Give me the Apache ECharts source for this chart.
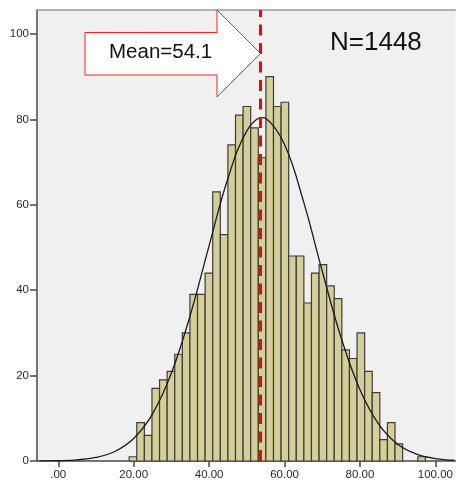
<!DOCTYPE html>
<html>
<head>
<meta charset="utf-8">
<script src="https://cdn.jsdelivr.net/npm/echarts@6/dist/echarts.min.js"></script>
<style>
html,body{margin:0;padding:0;background:#fff;}
#chart{width:456px;height:481px;}
</style>
</head>
<body>
<div id="chart"></div>
<script>
// ---- data ----
const binStart = 18.8;
const binWidth = 2.014;
const binCounts = [1,9,6,17,19,21,25,30,39,39,44,63,53,74,81,83,78,71,90,83,84,48,48,37,44,46,41,38,26,24,30,21,16,5,9,4,0,0,1];
const curveX = [-5,0,5,10,15,20,25,30,35,40,45,50,54.1,55,60,65,70,75,80,85,90,95,100,105];
const curveY = [0.02,0.08,0.28,0.84,2.23,5.26,11.03,20.59,34.17,50.44,66.21,77.29,80.4,80.25,74.10,60.85,44.44,28.86,16.67,8.56,3.91,1.59,0.57,0.18];
const xTicks = [0,20,40,60,80,100];
const yTicks = [0,20,40,60,80,100];
const meanLine = 53.6;
const meanLabel = 'Mean=54.1';
const nLabel = 'N=1448';

const bars = binCounts.map((c,i)=>[binStart+i*binWidth, binStart+(i+1)*binWidth, c]);
const curve = curveX.map((x,i)=>[x,curveY[i]]);

const FONT = '"Liberation Sans", Arial, sans-serif';
const chart = echarts.init(document.getElementById('chart'), null, {renderer:'canvas'});
chart.setOption({
  animation:false,
  backgroundColor:'#ffffff',
  grid:{left:37,right:0,top:10,bottom:20,show:true,backgroundColor:'#F0F0F0',borderWidth:0},
  xAxis:[{
    type:'value', min:-5.64, max:105.3,
    axisLine:{show:true,onZero:false,lineStyle:{color:'#4a4a4a',width:1.5}},
    axisTick:{show:true,length:6,customValues:xTicks,lineStyle:{color:'#4a4a4a',width:1.5}},
    axisLabel:{customValues:xTicks,margin:8,fontSize:11.5,color:'#2a2a2a',fontFamily:FONT,
      formatter:v=> v===0 ? '.00' : v.toFixed(2)},
    splitLine:{show:false}
  },{
    type:'value', position:'top', min:-5.64, max:105.3,
    axisLine:{show:true,onZero:false,lineStyle:{color:'#9a9a9a',width:1.5}},
    axisTick:{show:false}, axisLabel:{show:false}, splitLine:{show:false}
  }],
  yAxis:{
    type:'value', min:0, max:105.6, position:'left',
    axisLine:{show:true,onZero:false,lineStyle:{color:'#4a4a4a',width:1.5}},
    axisTick:{show:true,length:7,customValues:yTicks,lineStyle:{color:'#4a4a4a',width:1.5}},
    axisLabel:{customValues:yTicks,margin:8,fontSize:11.5,color:'#2a2a2a',fontFamily:FONT},
    splitLine:{show:false}
  },
  series:[{
    type:'custom',
    data:bars,
    encode:{x:[0,1],y:2},
    renderItem:function(params,api){
      const p0 = api.coord([api.value(0),0]);
      const p1 = api.coord([api.value(1),api.value(2)]);
      if (api.value(2) <= 0) return null;
      return {type:'rect',
        shape:{x:p0[0],y:p1[1],width:p1[0]-p0[0],height:p0[1]-p1[1]},
        style:{fill:'#D4CF98',stroke:'#3c3c3c',lineWidth:1.2}};
    },
    z:2
  },{
    type:'line',
    data:curve,
    smooth:0.4,
    showSymbol:false,
    lineStyle:{color:'#1a1a1a',width:1.3},
    z:3,
    markLine:{
      silent:true,symbol:['none','none'],label:{show:false},
      lineStyle:{color:'#FF0000',width:3,type:[11,7.5]},
      data:[{xAxis:meanLine}],
      z:4
    }
  }],
  graphic:[{
    type:'polygon', z:10,
    shape:{points:[[85,32.5],[217,32.5],[217,10],[260.5,53.5],[217,97],[217,75],[85,75]]},
    style:{fill:'#ffffff',stroke:'#FF2020',lineWidth:1}
  },{
    type:'text', z:11, left:109, top:42,
    style:{text:meanLabel,font:'20.5px '+FONT,fill:'#111111'}
  },{
    type:'text', z:11, left:330, top:30,
    style:{text:nLabel,font:'26px '+FONT,fill:'#111111'}
  }]
});
</script>
</body>
</html>
